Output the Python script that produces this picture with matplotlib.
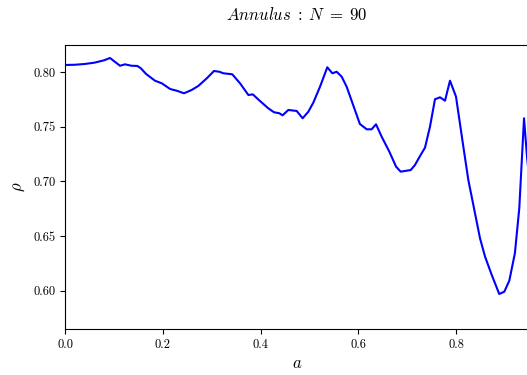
import matplotlib
matplotlib.use("Agg")
import matplotlib.pyplot as plt

plt.rcParams["font.family"] = "serif"
plt.rcParams["font.serif"] = ["cmr10"]
plt.rcParams["mathtext.fontset"] = "cm"
plt.rcParams["axes.unicode_minus"] = False
plt.rcParams["axes.formatter.use_mathtext"] = True

# density rho as a function of the annulus parameter a
a_vals = [0.0, 0.02, 0.04, 0.06, 0.08, 0.092, 0.1125, 0.1227, 0.136, 0.148,
          0.155, 0.166, 0.184, 0.198, 0.215, 0.228, 0.2434, 0.259, 0.2726,
          0.290, 0.3047, 0.3156, 0.3238, 0.342, 0.358, 0.375, 0.384, 0.3988,
          0.4158, 0.4274, 0.4383, 0.445, 0.4567, 0.4738, 0.486, 0.4976,
          0.5078, 0.5215, 0.5364, 0.5467, 0.5556, 0.5658, 0.576, 0.603,
          0.617, 0.627, 0.636, 0.6476, 0.6633, 0.677, 0.6865, 0.707, 0.7157,
          0.726, 0.7362, 0.7464, 0.7566, 0.7669, 0.7771, 0.7873, 0.7996,
          0.8146, 0.8248, 0.8487, 0.859, 0.8726, 0.888, 0.8984, 0.9086,
          0.920, 0.929, 0.9387, 0.9448, 0.95]
rho_vals = [0.8067, 0.8069, 0.8076, 0.8088, 0.8110, 0.8131, 0.8060, 0.8073,
            0.8060, 0.8058, 0.8037, 0.7984, 0.7923, 0.7899, 0.7847, 0.7832,
            0.7808, 0.7838, 0.7875, 0.7945, 0.8012, 0.8005, 0.7991, 0.7982,
            0.7899, 0.7792, 0.7798, 0.7737, 0.7670, 0.7634, 0.7625, 0.7606,
            0.7655, 0.7646, 0.7579, 0.7639, 0.7722, 0.7868, 0.8046, 0.7991,
            0.8005, 0.7960, 0.7868, 0.7527, 0.7478, 0.7478, 0.7524, 0.7410,
            0.7273, 0.7136, 0.7090, 0.7105, 0.7151, 0.7233, 0.7310, 0.7502,
            0.7753, 0.7771, 0.7740, 0.7923, 0.7777, 0.7319, 0.7014, 0.6480,
            0.6312, 0.6145, 0.5970, 0.5991, 0.6092, 0.6342, 0.6755, 0.7579,
            0.7227, 0.7000]

x_ticks = [0.0, 0.2, 0.4, 0.6, 0.8]
y_ticks = [0.60, 0.65, 0.70, 0.75, 0.80]

fig = plt.figure(figsize=(5.27, 3.75), dpi=100)
ax = fig.add_axes([65 / 527, 46.3 / 375, 464 / 527, 283.7 / 375])
ax.plot(a_vals, rho_vals, color="blue", linewidth=1.5)

ax.set_xlim(0.0, 464 / 489)
ax.set_ylim(0.5652, 0.825)
ax.set_xticks(x_ticks)
ax.set_xticklabels([f"{t:.1f}" for t in x_ticks])
ax.set_yticks(y_ticks)
ax.set_yticklabels([f"{t:.2f}" for t in y_ticks])
ax.tick_params(labelsize=9, direction="out", length=3.5)

ax.set_title(r"$Annulus\;:\;N\;=\;90$", fontsize=12, pad=18)
ax.set_xlabel(r"$a$", fontsize=12)
ax.set_ylabel(r"$\rho$", fontsize=12)

fig.savefig("out.png", dpi=100)
